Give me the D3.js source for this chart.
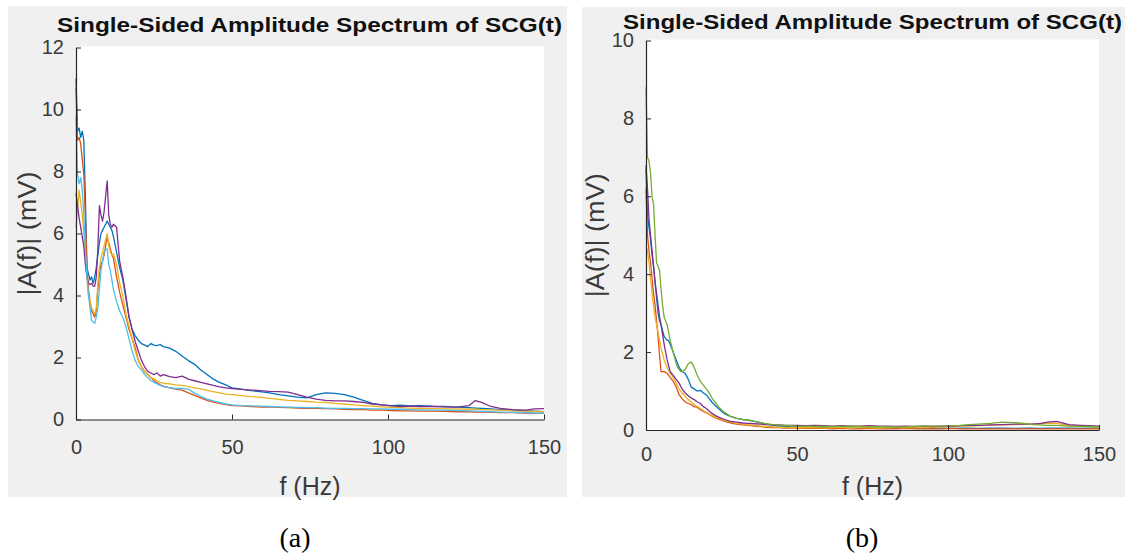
<!DOCTYPE html>
<html lang="en">
<head>
<meta charset="UTF-8">
<title>Single-Sided Amplitude Spectrum of SCG(t)</title>
<script src="https://d3js.org/d3.v7.min.js"></script>
<style>
    body { margin: 0; background: #fff; }
    text { font-family: 'Liberation Sans', Arial, sans-serif; fill: #333; }
    .title { font-weight: bold; font-size: 21px; fill: #111; }
    .label { font-size: 25px; text-anchor: middle; fill: #3a3a3a; }
    .tick text { font-size: 20px; fill: #3a3a3a; }
    .caption { font-family: 'Liberation Serif', 'Times New Roman', serif; font-size: 28px; fill: #000; text-anchor: middle; }
    .domain, .tick line { stroke: #262626; }
</style>
</head>
<body>
<svg id="chart" width="1128" height="555"></svg>
<script>
// frequency grid (Hz), shared by both panels
const freqs = [0,0.5,1,1.5,2,2.5,3,3.5,4,4.5,5,5.5,6,6.5,7,7.5,8,8.5,9,9.5,10,10.5,11,11.5,12,
    13,14,15,16,17,18,19,20,21,22,23,24,25,26,27,28,
    30,32,34,36,38,40,42,44,46,48,50,
    53,56,59,62,65,68,71,74,77,80,83,86,89,92,95,98,101,104,107,110,
    114,118,122,126,
    128,130,133,136,140,144,147,150];

// panel (a) amplitudes, mV
const aBlue = [11.0,9.3,9.4,9.1,9.3,9.0,7.2,4.9,4.7,4.5,4.6,4.4,4.6,4.9,5.3,5.7,6.0,6.1,6.2,6.3,6.4,6.3,6.2,6.1,5.9,
    5.4,4.9,4.5,3.9,3.3,2.9,2.7,2.55,2.45,2.4,2.35,2.45,2.4,2.38,2.42,2.35,
    2.3,2.2,2.05,1.9,1.78,1.6,1.45,1.3,1.2,1.12,1.02,
    0.98,0.93,0.9,0.86,0.8,0.76,0.72,0.7,0.8,0.86,0.84,0.8,0.72,0.62,0.52,0.47,0.45,0.46,0.44,0.45,
    0.43,0.42,0.4,0.38,
    0.37,0.36,0.34,0.32,0.3,0.28,0.27,0.25];
const aOrange = [10.7,9.0,9.1,8.9,8.4,7.9,6.5,5.0,4.2,3.8,3.5,3.4,3.3,3.5,4.2,4.7,5.0,5.1,5.3,5.6,5.9,5.7,5.5,5.3,5.2,
    4.6,4.1,3.7,3.3,2.9,2.6,2.3,1.9,1.7,1.55,1.45,1.35,1.25,1.18,1.12,1.08,
    1.02,0.98,0.95,0.86,0.78,0.7,0.62,0.56,0.52,0.48,0.45,
    0.44,0.42,0.4,0.41,0.39,0.38,0.37,0.36,0.36,0.35,0.34,0.33,0.32,0.32,0.3,0.3,0.29,0.28,0.28,0.27,
    0.27,0.26,0.25,0.25,
    0.24,0.24,0.23,0.22,0.22,0.21,0.2,0.2];
const aYellow = [6.2,6.8,7.4,7.0,6.6,6.0,5.4,4.6,4.0,3.8,3.6,3.5,3.4,3.6,4.4,4.9,5.2,5.4,5.6,5.8,6.0,5.6,5.4,5.3,5.35,
    5.0,4.4,4.0,3.4,3.0,2.6,2.2,1.9,1.7,1.55,1.45,1.35,1.3,1.25,1.2,1.17,
    1.15,1.12,1.1,1.06,1.02,0.99,0.94,0.9,0.86,0.82,0.8,
    0.77,0.74,0.72,0.68,0.65,0.62,0.6,0.58,0.56,0.55,0.52,0.5,0.47,0.45,0.43,0.41,0.39,0.38,0.37,0.36,
    0.35,0.34,0.34,0.33,
    0.33,0.32,0.31,0.3,0.28,0.27,0.26,0.25];
const aPurple = [7.3,6.9,6.5,6.2,5.9,5.6,5.0,4.6,4.4,4.35,4.4,4.3,4.3,4.6,5.5,6.9,6.6,6.4,6.7,7.2,7.7,6.6,6.3,6.2,6.3,
    6.2,5.1,4.6,4.0,3.3,2.9,2.5,2.2,1.9,1.7,1.55,1.5,1.45,1.5,1.4,1.45,
    1.38,1.35,1.4,1.3,1.25,1.2,1.15,1.1,1.05,1.02,1.0,
    0.97,0.95,0.93,0.91,0.9,0.88,0.8,0.72,0.66,0.62,0.6,0.6,0.58,0.55,0.5,0.47,0.44,0.42,0.43,0.42,
    0.42,0.41,0.4,0.45,
    0.61,0.55,0.42,0.36,0.32,0.3,0.34,0.35];
const aCyan = [9.8,7.9,7.6,7.8,7.4,6.6,5.5,4.6,4.0,3.6,3.2,3.15,3.1,3.3,3.6,4.2,4.8,5.1,5.4,5.5,5.5,5.0,4.8,4.5,4.2,
    3.8,3.5,3.3,3.0,2.6,2.2,1.9,1.7,1.6,1.45,1.35,1.25,1.2,1.15,1.1,1.06,
    1.03,1.0,1.0,0.98,0.85,0.75,0.66,0.6,0.55,0.5,0.47,
    0.45,0.44,0.43,0.42,0.41,0.4,0.39,0.38,0.38,0.37,0.36,0.36,0.35,0.35,0.34,0.34,0.33,0.33,0.32,0.31,
    0.3,0.3,0.29,0.28,
    0.27,0.26,0.25,0.24,0.23,0.22,0.21,0.2];

// panel (b) amplitudes, mV
const bBlue = [6.7,5.5,5.2,4.9,4.5,4.2,3.8,3.4,3.0,2.8,2.7,2.55,2.4,2.35,2.3,2.3,2.2,2.1,2.0,1.9,1.8,1.7,1.6,1.55,1.5,
    1.45,1.3,1.1,1.05,1.0,1.02,0.95,0.9,0.8,0.7,0.62,0.55,0.48,0.42,0.38,0.35,
    0.3,0.27,0.25,0.22,0.18,0.15,0.12,0.1,0.09,0.08,0.08,
    0.07,0.06,0.06,0.05,0.05,0.05,0.05,0.04,0.05,0.05,0.04,0.04,0.05,0.05,0.04,0.05,0.04,0.05,0.05,0.04,
    0.05,0.05,0.04,0.05,
    0.05,0.04,0.05,0.05,0.05,0.04,0.05,0.05];
const bOrange = [6.2,5.0,4.6,4.3,3.9,3.5,3.2,2.8,2.4,1.9,1.5,1.5,1.5,1.48,1.45,1.4,1.35,1.3,1.25,1.18,1.1,1.0,0.9,0.85,0.8,
    0.72,0.68,0.65,0.6,0.58,0.52,0.48,0.44,0.4,0.35,0.31,0.28,0.25,0.22,0.2,0.18,
    0.15,0.13,0.12,0.1,0.09,0.07,0.06,0.06,0.05,0.05,0.05,
    0.04,0.04,0.04,0.03,0.04,0.03,0.03,0.04,0.03,0.03,0.03,0.04,0.03,0.03,0.03,0.03,0.04,0.03,0.03,0.03,
    0.03,0.03,0.03,0.03,
    0.03,0.03,0.03,0.03,0.03,0.03,0.03,0.03];
const bYellow = [4.7,4.6,4.3,3.9,3.5,3.2,2.9,2.7,2.5,2.3,2.1,1.95,1.8,1.7,1.6,1.52,1.45,1.4,1.35,1.28,1.2,1.12,1.05,1.0,0.95,
    0.86,0.78,0.72,0.65,0.6,0.55,0.5,0.45,0.41,0.37,0.33,0.3,0.27,0.24,0.22,0.2,
    0.17,0.15,0.13,0.12,0.1,0.09,0.08,0.07,0.07,0.06,0.06,
    0.06,0.06,0.05,0.06,0.06,0.05,0.06,0.06,0.05,0.06,0.06,0.06,0.06,0.07,0.07,0.08,0.09,0.1,0.1,0.11,
    0.12,0.13,0.14,0.15,
    0.15,0.16,0.18,0.17,0.12,0.1,0.09,0.08];
const bPurple = [6.8,6.2,5.4,5.0,4.6,4.2,3.8,3.5,3.2,2.9,2.7,2.45,2.2,2.0,1.8,1.65,1.5,1.45,1.4,1.35,1.3,1.25,1.2,1.12,1.05,
    0.95,0.88,0.82,0.78,0.72,0.68,0.6,0.55,0.48,0.42,0.37,0.33,0.3,0.27,0.24,0.22,
    0.2,0.18,0.17,0.16,0.15,0.14,0.13,0.13,0.12,0.12,0.12,
    0.11,0.12,0.11,0.1,0.11,0.1,0.1,0.11,0.1,0.1,0.09,0.1,0.09,0.1,0.09,0.1,0.1,0.11,0.12,0.12,
    0.13,0.14,0.15,0.15,
    0.15,0.16,0.2,0.22,0.14,0.12,0.11,0.1];
const bGreen = [8.8,7.0,6.9,6.6,6.0,5.8,5.0,4.3,4.2,4.1,3.6,3.2,2.9,2.8,2.7,2.5,2.3,2.15,2.0,1.85,1.7,1.6,1.55,1.5,1.5,
    1.55,1.7,1.75,1.6,1.4,1.25,1.15,1.05,0.95,0.8,0.7,0.6,0.52,0.45,0.4,0.35,
    0.3,0.27,0.25,0.22,0.19,0.16,0.14,0.13,0.12,0.11,0.1,
    0.1,0.09,0.1,0.09,0.09,0.1,0.09,0.08,0.09,0.08,0.08,0.08,0.09,0.1,0.1,0.1,0.11,0.12,0.14,0.15,
    0.17,0.2,0.19,0.16,
    0.14,0.13,0.12,0.12,0.1,0.09,0.09,0.08];

const xTicks = [0, 50, 100, 150];
const yTicksA = [0, 2, 4, 6, 8, 10, 12];
const yTicksB = [0, 2, 4, 6, 8, 10];

// MATLAB default line colours
const colors = {
    blue: "#0072BD", orange: "#D95319", yellow: "#EDB120",
    purple: "#7E2F8E", green: "#77AC30", cyan: "#4DBEEE"
};

const chart = d3.select("#chart");

function drawPanel(p) {
    const g = chart.append("g");

    // grey figure background
    g.append("rect")
        .attr("x", p.bg[0]).attr("y", p.bg[1])
        .attr("width", p.bg[2]).attr("height", p.bg[3])
        .attr("fill", "#f0f0f0");

    const x = d3.scaleLinear().domain([0, 150]).range([p.left, p.right]);
    const y = d3.scaleLinear().domain([0, p.yMax]).range([p.bottom, p.top]);

    // white axes area
    g.append("rect")
        .attr("x", p.left).attr("y", p.top - 1)
        .attr("width", p.right - p.left).attr("height", p.bottom - p.top + 1)
        .attr("fill", "#fff");

    const line = d3.line().x((d, i) => x(freqs[i])).y(d => y(d));

    p.series.forEach(s => {
        g.append("path")
            .datum(s.values)
            .attr("d", line)
            .attr("fill", "none")
            .attr("stroke", s.color)
            .attr("stroke-width", 1.3)
            .attr("stroke-linejoin", "round");
    });

    // axes, ticks pointing inward like MATLAB
    const xAxis = g.append("g")
        .attr("transform", `translate(0,${p.bottom})`)
        .call(d3.axisBottom(x).tickValues(xTicks).tickSizeInner(-5).tickSizeOuter(0).tickPadding(p.xPad));
    xAxis.selectAll(".tick text").attr("dy", "0.35em").attr("y", p.xPad);

    g.append("g")
        .attr("transform", `translate(${p.left},0)`)
        .call(d3.axisLeft(y).tickValues(p.yTicks).tickSizeInner(-5).tickSizeOuter(0).tickPadding(12));

    g.selectAll(".domain").attr("stroke-width", 1.2);

    g.append("text")
        .attr("class", "title")
        .attr("x", p.titleX).attr("y", p.titleY)
        .attr("textLength", p.titleW)
        .attr("lengthAdjust", "spacingAndGlyphs")
        .text("Single-Sided Amplitude Spectrum of SCG(t)");

    g.append("text")
        .attr("class", "label")
        .attr("x", (p.left + p.right) / 2).attr("y", 486)
        .attr("dy", "0.35em")
        .text("f (Hz)");

    g.append("text")
        .attr("class", "label")
        .attr("transform", `translate(${p.yLabelX},${(p.top + p.bottom) / 2})rotate(-90)`)
        .attr("dy", "0.35em")
        .attr("textLength", 124)
        .attr("lengthAdjust", "spacingAndGlyphs")
        .text("|A(f)| (mV)");

    g.append("text")
        .attr("class", "caption")
        .attr("x", p.capX).attr("y", 537)
        .attr("dy", "0.35em")
        .text(p.caption);
}

drawPanel({
    bg: [8, 6, 559, 491],
    left: 76, right: 544, top: 47.5, bottom: 419.5,
    yMax: 12, yTicks: yTicksA, xPad: 27,
    titleX: 57, titleY: 32, titleW: 505,
    yLabelX: 27, capX: 295, caption: "(a)",
    series: [
        { color: colors.blue, values: aBlue },
        { color: colors.orange, values: aOrange },
        { color: colors.yellow, values: aYellow },
        { color: colors.purple, values: aPurple },
        { color: colors.cyan, values: aCyan }
    ]
});

drawPanel({
    bg: [582, 7, 543, 490],
    left: 646, right: 1099, top: 40.5, bottom: 430,
    yMax: 10, yTicks: yTicksB, xPad: 24,
    titleX: 623, titleY: 29, titleW: 499,
    yLabelX: 595, capX: 862, caption: "(b)",
    series: [
        { color: colors.blue, values: bBlue },
        { color: colors.orange, values: bOrange },
        { color: colors.yellow, values: bYellow },
        { color: colors.purple, values: bPurple },
        { color: colors.green, values: bGreen }
    ]
});
</script>
</body>
</html>
